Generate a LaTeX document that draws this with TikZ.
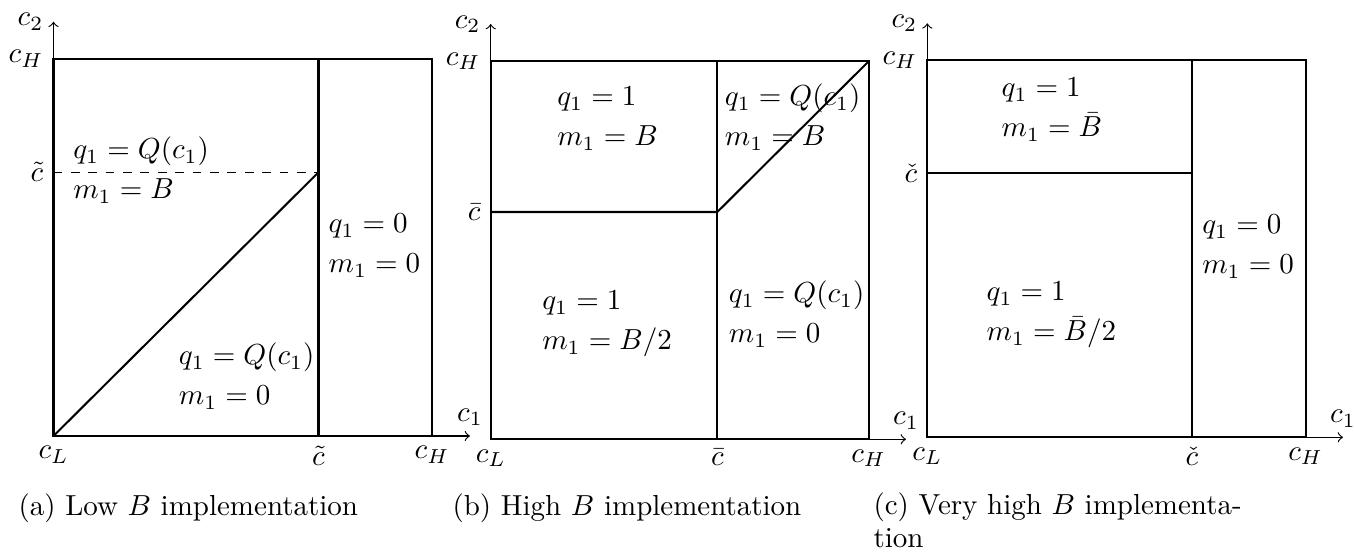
\documentclass[tikz,border=0pt]{standalone}
\usepackage{amsmath}
\newcommand{\regtext}[2]{\begin{tabular}[t]{@{}l@{}}$#1$\\[1.8pt]$#2$\end{tabular}}
\tikzset{
  boxline/.style={line width=0.7pt},
  axisline/.style={line width=0.4pt,->},
  dashline/.style={line width=0.4pt,dashed},
  region/.style={anchor=base west, inner sep=0pt},
  caplabel/.style={anchor=base west, inner sep=0pt},
}
\begin{document}
\begin{tikzpicture}[x=0.345pt,y=-0.345pt]
\useasboundingbox (0,0) rectangle (1354,553);
% ---------------- panel (a) ----------------
\coordinate (aBL) at (53.5,436);
\coordinate (aBR) at (432,436);
\coordinate (aTL) at (53.5,58.7);
\coordinate (aTR) at (432,58.7);
\coordinate (aDB) at (318.5,436);
\coordinate (aDT) at (318.5,58.7);
\coordinate (aK)  at (318.5,172.3);
\coordinate (aKL) at (53.5,172.3);
\coordinate (aYT) at (53.5,21.7);
\coordinate (aXT) at (470,436);
\draw[axisline] (aBL) -- (aYT);
\draw[axisline] (aBL) -- (aXT);
\draw[boxline] (aBL) rectangle (aTR);
\draw[boxline] (aDB) -- (aDT);
\draw[boxline] (aBL) -- (aK);
\draw[dashline] (aKL) -- (aK);
\node[left] (ac2) at (aYT) {$c_2$};
\node[left] (acH) at (aTL) {$c_H$};
\node[left] (actl) at (aKL) {$\tilde{c}$};
\node[above] (ac1) at (aXT) {$c_1$};
\node[below] (acL) at (aBL) {$c_L$};
\node[below] (actb) at (aDB) {$\tilde{c}$};
\node[below] (acHb) at (aBR) {$c_H$};
\node[region] (ar1) at (72.7,159) {\regtext{q_1=Q(c_1)}{m_1=B}};
\node[region] (ar2) at (328,233) {\regtext{q_1=0}{m_1=0}};
\node[region] (ar3) at (178.3,365) {\regtext{q_1=Q(c_1)}{m_1=0}};
\node[caplabel] (acap) at (18,515.6) {(a) Low $B$ implementation};
% ---------------- panel (b) ----------------
\coordinate (bBL) at (490.7,439.3);
\coordinate (bBR) at (868.7,439.3);
\coordinate (bTL) at (490.7,61.3);
\coordinate (bTR) at (868.7,61.3);
\coordinate (bDB) at (717.3,439.3);
\coordinate (bDT) at (717.3,61.3);
\coordinate (bK)  at (717.3,212);
\coordinate (bKL) at (490.7,212);
\coordinate (bYT) at (490.7,24);
\coordinate (bXT) at (906,439.3);
\draw[axisline] (bBL) -- (bYT);
\draw[axisline] (bBL) -- (bXT);
\draw[boxline] (bBL) rectangle (bTR);
\draw[boxline] (bDB) -- (bDT);
\draw[boxline] (bKL) -- (bK) -- (bTR);
\node[left] (bc2) at (bYT) {$c_2$};
\node[left] (bcH) at (bTL) {$c_H$};
\node[left] (bctl) at (bKL) {$\bar{c}$};
\node[above] (bc1) at (bXT) {$c_1$};
\node[below] (bcL) at (bBL) {$c_L$};
\node[below] (bctb) at (bDB) {$\bar{c}$};
\node[below] (bcHb) at (bBR) {$c_H$};
\node[region] (br1) at (556.7,106) {\regtext{q_1=1}{m_1=B}};
\node[region] (br2) at (724.3,106) {\regtext{q_1=Q(c_1)}{m_1=B}};
\node[region] (br3) at (541.7,310) {\regtext{q_1=1}{m_1=B/2}};
\node[region] (br4) at (728.3,302.7) {\regtext{q_1=Q(c_1)}{m_1=0}};
\node[caplabel] (bcap) at (452,515.6) {(b) High $B$ implementation};
% ---------------- panel (c) ----------------
\coordinate (cBL) at (927.3,437.3);
\coordinate (cBR) at (1305.7,437.3);
\coordinate (cTL) at (927.3,60);
\coordinate (cTR) at (1305.7,60);
\coordinate (cDB) at (1192,437.3);
\coordinate (cDT) at (1192,60);
\coordinate (cK)  at (1192,173);
\coordinate (cKL) at (927.3,173);
\coordinate (cYT) at (927.3,23.3);
\coordinate (cXT) at (1343,437.3);
\draw[axisline] (cBL) -- (cYT);
\draw[axisline] (cBL) -- (cXT);
\draw[boxline] (cBL) rectangle (cTR);
\draw[boxline] (cDB) -- (cDT);
\draw[boxline] (cKL) -- (cK);
\node[left] (cc2) at (cYT) {$c_2$};
\node[left] (ccH) at (cTL) {$c_H$};
\node[left] (cctl) at (cKL) {$\check{c}$};
\node[above] (cc1) at (cXT) {$c_1$};
\node[below] (ccL) at (cBL) {$c_L$};
\node[below] (cctb) at (cDB) {$\check{c}$};
\node[below] (ccHb) at (cBR) {$c_H$};
\node[region] (cr1) at (1001,97) {\regtext{q_1=1}{m_1=\bar{B}}};
\node[region] (cr2) at (1201.7,233.7) {\regtext{q_1=0}{m_1=0}};
\node[region] (cr3) at (986,301) {\regtext{q_1=1}{m_1=\bar{B}/2}};
\node[caplabel] (ccap) at (873,515) {\begin{tabular}[t]{@{}l@{}}(c) Very high $B$ implementa-\\[-0.9pt]tion\end{tabular}};
\end{tikzpicture}
\end{document}
